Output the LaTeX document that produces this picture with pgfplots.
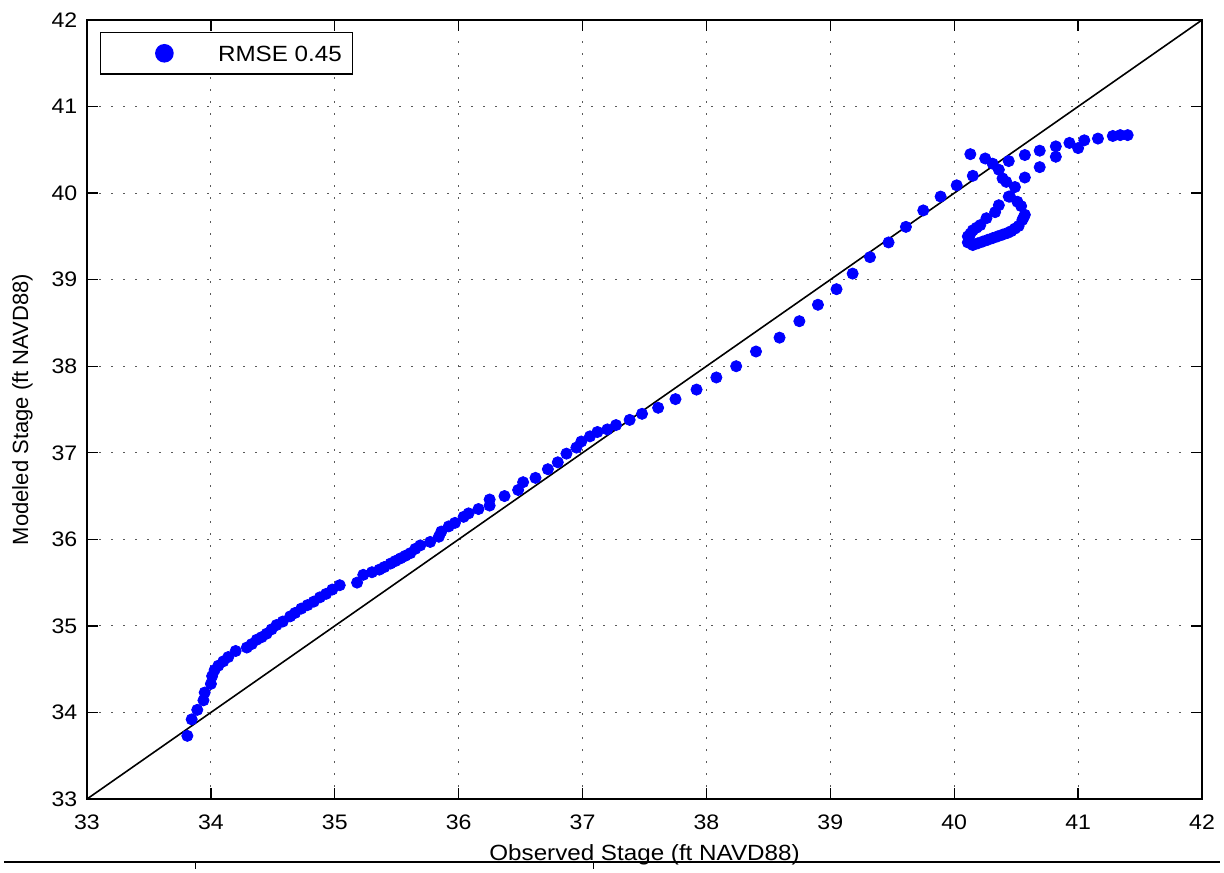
\documentclass[border=0pt]{standalone}
\usepackage{pgfplots}
\pgfplotsset{compat=1.18}
\usetikzlibrary{calc}
\usepackage{fontspec}
\setmainfont{Liberation Sans}
\newfontfamily\widefont[FakeStretch=1.1]{Liberation Sans}
\begin{document}
\begin{tikzpicture}
\begin{axis}[
  scale only axis,
  width=557.5pt, height=389.5pt,
  xmin=33, xmax=42, ymin=33, ymax=42,
  xtick={33,...,42}, ytick={33,...,42},
  tick align=inside,
  xtick pos=both, ytick pos=both,
  major tick length=5.5pt,
  grid=major,
  grid style={black!65, line width=0.5pt, dash pattern=on 0.8pt off 5.2pt},
  axis line style={black, line width=0.7pt},
  tick style={black, line width=0.7pt},
  /pgf/number format/assume math mode=true,
  ticklabel style={font=\widefont\fontsize{10.5}{12}\selectfont},
  xticklabel style={yshift=-4.3pt},
  yticklabel style={xshift=-1.3pt},
  xlabel={Observed Stage (ft NAVD88)},
  ylabel={Modeled Stage (ft NAVD88)},
  xlabel style={font=\widefont\fontsize{11}{13}\selectfont, at={(axis description cs:0.5,-0.072)}, anchor=center},
  ylabel style={font=\fontsize{11}{13}\selectfont, at={(axis description cs:-0.0578,0.5)}, anchor=center, rotate=0},
  legend style={at={(rel axis cs:0,1)}, anchor=north west, xshift=6.5pt, yshift=-6pt,
    draw=black, line width=0.7pt, inner xsep=0pt, inner ysep=6pt,
    font=\widefont\fontsize{11}{13}\selectfont,
    nodes={inner xsep=0pt, inner ysep=0pt, text height=8.6pt, text depth=0pt}},
  legend image code/.code={\path (0pt,0pt) (58pt,0pt);
    \draw[mark=*, mark size=4.3pt, mark options={fill=blue, draw=blue}] plot coordinates {(31.5pt,0pt)};},
]
\addplot[only marks, mark=*, mark size=2.8pt, blue, mark options={fill=blue, draw=blue}] coordinates {
(33.81,33.73) (33.845,33.92) (33.89,34.03) (33.94,34.14) (33.95,34.23) (34.00,34.33)
(34.01,34.42) (34.03,34.49) (34.06,34.54) (34.10,34.59) (34.14,34.64) (34.20,34.71)
(34.29,34.75) (34.33,34.79) (34.37,34.84) (34.41,34.87) (34.45,34.91) (34.49,34.96)
(34.53,35.01) (34.58,35.05) (34.64,35.11) (34.68,35.15) (34.73,35.20) (34.78,35.24)
(34.83,35.28) (34.88,35.33) (34.93,35.37) (34.98,35.42) (35.04,35.47) (35.18,35.50)
(35.23,35.59) (35.30,35.62) (35.36,35.65) (35.40,35.68) (35.45,35.72) (35.49,35.75)
(35.53,35.78) (35.57,35.81) (35.61,35.84) (35.65,35.89) (35.69,35.93) (35.77,35.97)
(35.84,36.03) (35.86,36.09) (35.92,36.15) (35.97,36.19) (36.04,36.26) (36.08,36.30)
(36.16,36.35) (36.25,36.39) (36.25,36.46) (36.37,36.50) (36.48,36.57) (36.52,36.66)
(36.62,36.71) (36.72,36.81) (36.80,36.89) (36.87,36.99) (36.95,37.06) (36.99,37.13)
(37.06,37.19) (37.12,37.24) (37.20,37.27) (37.27,37.32) (37.38,37.38) (37.48,37.45)
(37.61,37.52) (37.75,37.62) (37.92,37.73) (38.08,37.87) (38.24,38.00) (38.40,38.17)
(38.59,38.33) (38.75,38.52) (38.90,38.71) (39.05,38.89) (39.18,39.07) (39.32,39.26)
(39.47,39.43) (39.61,39.61) (39.75,39.80) (39.89,39.96) (40.02,40.09) (40.15,40.20)
(40.13,40.45) (40.25,40.40) (40.31,40.34) (40.36,40.27) (40.39,40.17) (40.42,40.13)
(40.44,40.37) (40.57,40.44) (40.69,40.49) (40.82,40.54) (40.93,40.58) (41.05,40.61)
(41.16,40.63) (41.28,40.66) (41.34,40.67) (41.40,40.67) (41.00,40.52) (40.82,40.42)
(40.69,40.30) (40.57,40.18) (40.49,40.07) (40.45,39.96) (40.51,39.90) (40.54,39.85)
(40.57,39.75) (40.56,39.72) (40.55,39.69) (40.52,39.62) (40.49,39.59) (40.46,39.56)
(40.43,39.54) (40.39,39.52) (40.35,39.50) (40.31,39.48) (40.27,39.46) (40.23,39.44)
(40.19,39.42) (40.15,39.40) (40.11,39.43) (40.12,39.46) (40.11,39.50) (40.13,39.53)
(40.15,39.57) (40.18,39.60) (40.21,39.63) (40.26,39.71) (40.33,39.78) (40.36,39.86)
(40.44,39.96)
};
\addlegendentry{RMSE 0.45\hspace*{5.3pt}}
\addplot[black, line width=0.8pt, forget plot] coordinates {(33,33) (42,42)};
\end{axis}
% page rule below the figure, as in the scanned reference
\draw[line width=0.8pt] ($(current axis.south west)+(-41.5pt,-31.5pt)$) -- ($(current axis.south east)+(9pt,-31.5pt)$);
\draw[line width=0.5pt] ($(current axis.south west)+(54pt,-31.5pt)$) -- ++(0,-3.5pt);
\draw[line width=0.5pt] ($(current axis.south west)+(253pt,-31.5pt)$) -- ++(0,-3.5pt);
\path ($(current axis.south west)+(-43.5pt,-35pt)$) ($(current axis.north east)+(11pt,10pt)$);
\end{tikzpicture}
\end{document}
